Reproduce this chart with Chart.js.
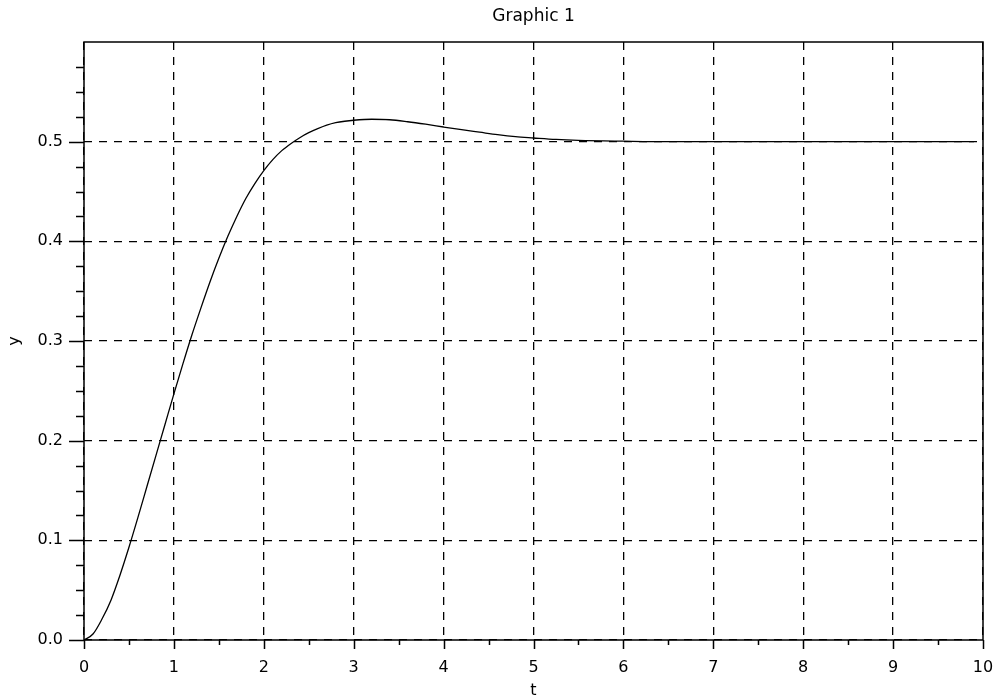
<!DOCTYPE html>
<html>
<head>
<meta charset="utf-8">
<script src="https://cdn.jsdelivr.net/npm/chart.js@4.4.1/dist/chart.umd.min.js"></script>
<style>
  html, body { margin: 0; padding: 0; background: #fff; }
  canvas { display: block; }
</style>
</head>
<body>
<canvas id="plot" width="998" height="700"></canvas>
<script>
// step response
const tValues = [0, 0.1, 0.2, 0.3, 0.4, 0.5, 0.6, 0.7, 0.8, 0.9,
  1.0, 1.1, 1.2, 1.3, 1.4, 1.5, 1.6, 1.7, 1.8, 1.9,
  2.0, 2.1, 2.2, 2.3, 2.4, 2.5, 2.6, 2.7, 2.8, 2.9,
  3.0, 3.2, 3.4, 3.6, 3.8, 4.0, 4.2, 4.4, 4.6, 4.8,
  5.0, 5.25, 5.5, 6.0, 6.5, 7.0, 8.0, 9.0, 9.9];
const yValues = [0, 0.006, 0.021, 0.040, 0.065, 0.093, 0.123, 0.154, 0.185, 0.216,
  0.247, 0.277, 0.306, 0.333, 0.359, 0.383, 0.405, 0.425, 0.443, 0.458,
  0.471, 0.482, 0.491, 0.498, 0.504, 0.509, 0.513, 0.5165, 0.519, 0.5205,
  0.5215, 0.5225, 0.522, 0.520, 0.5175, 0.5147, 0.512, 0.5095, 0.507, 0.505,
  0.5037, 0.5022, 0.5013, 0.5005, 0.5, 0.5, 0.5, 0.5, 0.5];

const xTicks = [0, 1, 2, 3, 4, 5, 6, 7, 8, 9, 10];
const yTicks = [0.0, 0.1, 0.2, 0.3, 0.4, 0.5];
const xMinorPerMajor = 2;
const yMinorPerMajor = 4;

const FONT = 'DejaVu Sans';

// solid frame plus outward major/minor tick marks
const frameTicks = {
  id: 'frameTicks',
  afterDraw(chart) {
    const { ctx, chartArea: a, scales: { x, y } } = chart;
    ctx.save();
    ctx.strokeStyle = '#000';
    ctx.lineWidth = 1.5;
    ctx.strokeRect(a.left, a.top, a.right - a.left, a.bottom - a.top);

    ctx.beginPath();
    const xStep = (xTicks[1] - xTicks[0]) / xMinorPerMajor;
    for (let v = xTicks[0]; v <= xTicks[xTicks.length - 1] + 1e-9; v += xStep) {
      const px = Math.round(x.getPixelForValue(v)) + 0.5;
      const major = Math.abs(v - Math.round(v)) < 1e-6;
      ctx.moveTo(px, a.bottom);
      ctx.lineTo(px, a.bottom + (major ? 9 : 5));
    }
    const yStep = (yTicks[1] - yTicks[0]) / yMinorPerMajor;
    for (let i = 0; yTicks[0] + i * yStep <= y.max - 1e-9; i++) {
      const v = yTicks[0] + i * yStep;
      const py = Math.round(y.getPixelForValue(v)) + 0.5;
      const major = i % yMinorPerMajor === 0;
      ctx.moveTo(a.left, py);
      ctx.lineTo(a.left - (major ? 15 : 8), py);
    }
    ctx.stroke();
    ctx.restore();
  }
};

new Chart(document.getElementById('plot'), {
  type: 'line',
  data: {
    datasets: [{
      data: tValues.map((t, i) => ({ x: t, y: yValues[i] })),
      borderColor: '#000',
      borderWidth: 1.3,
      pointRadius: 0,
      cubicInterpolationMode: 'monotone',
      fill: false
    }]
  },
  options: {
    responsive: false,
    animation: false,
    layout: { padding: { left: 0, right: 15, top: 0, bottom: 0 } },
    plugins: {
      legend: { display: false },
      tooltip: { enabled: false },
      title: {
        display: true,
        fullSize: false,
        text: 'Graphic 1',
        color: '#000',
        font: { family: FONT, size: 17, weight: 'normal', lineHeight: 1.2 },
        padding: { top: 6, bottom: 15.6 }
      }
    },
    scales: {
      x: {
        type: 'linear',
        min: 0,
        max: 10,
        afterBuildTicks: (s) => { s.ticks = xTicks.map(v => ({ value: v })); },
        afterFit: (s) => { s.height = 60; s.paddingLeft = 0; s.paddingRight = 0; },
        grid: { color: '#000', lineWidth: 1.3, drawTicks: false },
        border: { display: false, dash: [8, 7] },
        ticks: {
          color: '#000',
          padding: 18,
          maxRotation: 0,
          font: { family: FONT, size: 16 },
          callback: (v) => String(v)
        },
        title: {
          display: true,
          text: 't',
          color: '#000',
          font: { family: FONT, size: 16 },
          padding: { top: 0, bottom: 0 }
        }
      },
      y: {
        type: 'linear',
        min: 0,
        max: 0.6,
        afterBuildTicks: (s) => { s.ticks = yTicks.map(v => ({ value: v })); },
        afterFit: (s) => { s.width = 84; s.paddingTop = 0; s.paddingBottom = 0; },
        grid: { color: '#000', lineWidth: 1.3, drawTicks: false },
        border: { display: false, dash: [8, 7] },
        ticks: {
          color: '#000',
          padding: 21,
          font: { family: FONT, size: 16 },
          callback: (v) => v.toFixed(1)
        },
        title: {
          display: true,
          text: 'y',
          color: '#000',
          font: { family: FONT, size: 16 },
          padding: { top: 5, bottom: 0 }
        }
      }
    }
  },
  plugins: [frameTicks]
});
</script>
</body>
</html>
